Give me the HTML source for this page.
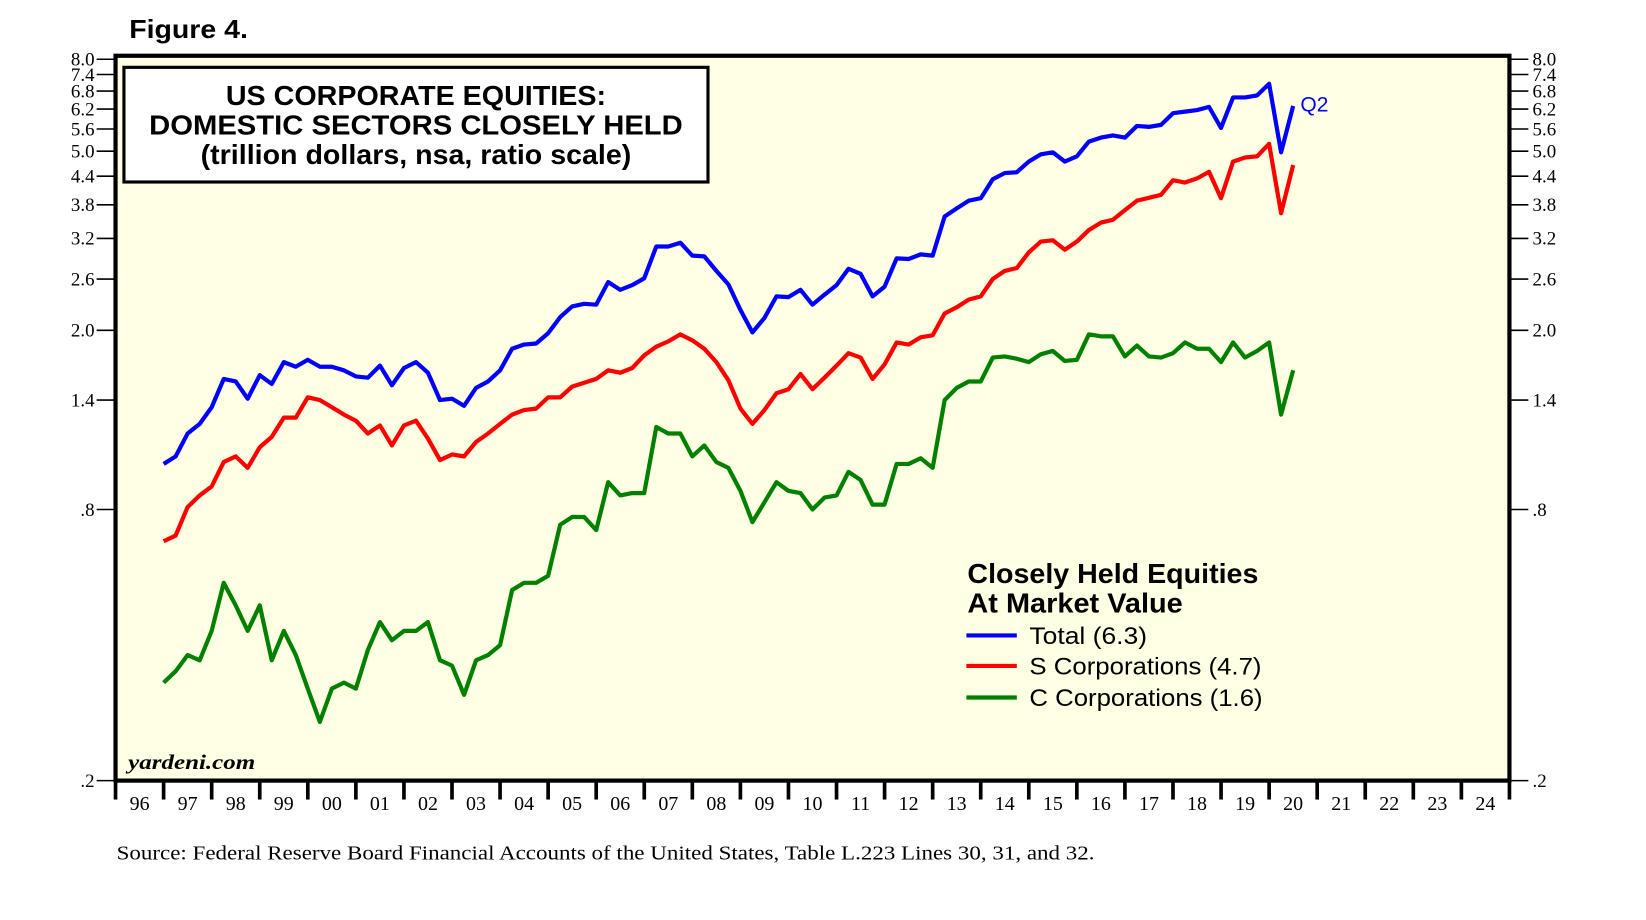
<!DOCTYPE html>
<html><head><meta charset="utf-8"><style>
html,body{margin:0;padding:0;background:#fff;}
svg{display:block;}
.ser{font-family:"Liberation Serif",serif;}
.san{font-family:"Liberation Sans Narrow","Liberation Sans",sans-serif;}
</style></head><body>
<svg id="chart" width="1646" height="920" viewBox="0 0 1567 874.5" preserveAspectRatio="none" xmlns="http://www.w3.org/2000/svg">
<text class="san" x="123" y="36" font-size="25" font-weight="bold" textLength="113" lengthAdjust="spacingAndGlyphs">Figure 4.</text>
<rect x="110" y="53" width="1327" height="689" fill="#FFFFE3" stroke="#000" stroke-width="4"/>
<g id="yticks"></g><g id="xticks"></g><g id="series"></g>
<rect x="118" y="64" width="556" height="109" fill="#fff" stroke="#000" stroke-width="3"/>
<text class="san" x="396" y="100" text-anchor="middle" font-size="26" font-weight="bold" textLength="362" lengthAdjust="spacingAndGlyphs">US CORPORATE EQUITIES:</text>
<text class="san" x="396" y="128" text-anchor="middle" font-size="26" font-weight="bold" textLength="508" lengthAdjust="spacingAndGlyphs">DOMESTIC SECTORS  CLOSELY HELD</text>
<text class="san" x="396" y="156" text-anchor="middle" font-size="26" font-weight="bold" textLength="410" lengthAdjust="spacingAndGlyphs">(trillion dollars, nsa, ratio scale)</text>
<text class="san" x="921" y="554" font-size="26" font-weight="bold" textLength="277" lengthAdjust="spacingAndGlyphs">Closely Held Equities</text>
<text class="san" x="921" y="582" font-size="26" font-weight="bold" textLength="205" lengthAdjust="spacingAndGlyphs">At Market Value</text>
<line x1="920" y1="604" x2="968" y2="604" stroke="#0000FF" stroke-width="4"/>
<text class="san" x="980" y="612" font-size="23" textLength="112" lengthAdjust="spacingAndGlyphs">Total (6.3)</text>
<line x1="920" y1="633" x2="968" y2="633" stroke="#FF0000" stroke-width="4"/>
<text class="san" x="980" y="641" font-size="23" textLength="221" lengthAdjust="spacingAndGlyphs">S Corporations (4.7)</text>
<line x1="920" y1="663" x2="968" y2="663" stroke="#008000" stroke-width="4"/>
<text class="san" x="980" y="671" font-size="23" textLength="222" lengthAdjust="spacingAndGlyphs">C Corporations (1.6)</text>
<text class="san" x="1238" y="106" font-size="20" fill="#0000FF">Q2</text>
<text class="ser" x="122" y="731" font-size="20" font-weight="bold" font-style="italic" textLength="121" lengthAdjust="spacingAndGlyphs">yardeni.com</text>
<text class="ser" x="111" y="817" font-size="19" textLength="931" lengthAdjust="spacingAndGlyphs">Source: Federal Reserve Board Financial Accounts of the United States, Table L.223 Lines 30, 31, and 32.</text>
</svg>
<script>
const yTickValues=[8.0,7.4,6.8,6.2,5.6,5.0,4.4,3.8,3.2,2.6,2.0,1.4,0.8,0.2];
const yTickLabels=["8.0","7.4","6.8","6.2","5.6","5.0","4.4","3.8","3.2","2.6","2.0","1.4",".8",".2"];
const yearLabels=["96","97","98","99","00","01","02","03","04","05","06","07","08","09","10","11","12","13","14","15","16","17","18","19","20","21","22","23","24"];
const startYear=1997.0; // first quarterly point (1996 Q4)
const totalValues=[1.01,1.05,1.18,1.24,1.35,1.56,1.54,1.41,1.59,1.52,1.70,1.66,1.72,1.66,1.66,1.63,1.58,1.57,1.67,1.51,1.65,1.70,1.61,1.40,1.41,1.36,1.49,1.54,1.63,1.82,1.86,1.87,1.97,2.14,2.26,2.29,2.28,2.56,2.46,2.52,2.61,3.07,3.07,3.13,2.93,2.92,2.71,2.53,2.22,1.98,2.13,2.38,2.37,2.46,2.28,2.40,2.52,2.74,2.67,2.38,2.50,2.89,2.88,2.95,2.93,3.58,3.73,3.88,3.93,4.33,4.47,4.49,4.74,4.92,4.97,4.74,4.87,5.25,5.36,5.42,5.36,5.69,5.66,5.72,6.07,6.12,6.17,6.27,5.63,6.58,6.58,6.65,7.06,4.97,6.30];
const sCorpValues=[0.68,0.70,0.81,0.86,0.90,1.02,1.05,0.99,1.10,1.16,1.28,1.28,1.42,1.40,1.35,1.30,1.26,1.18,1.23,1.11,1.23,1.26,1.15,1.03,1.06,1.05,1.13,1.18,1.24,1.30,1.33,1.34,1.42,1.42,1.50,1.53,1.56,1.63,1.61,1.65,1.76,1.84,1.89,1.96,1.90,1.82,1.70,1.55,1.34,1.24,1.33,1.45,1.48,1.60,1.48,1.57,1.67,1.78,1.74,1.56,1.68,1.88,1.86,1.93,1.95,2.18,2.25,2.34,2.38,2.60,2.71,2.75,2.98,3.15,3.17,3.02,3.15,3.34,3.47,3.52,3.70,3.88,3.94,4.00,4.31,4.26,4.35,4.50,3.93,4.74,4.84,4.87,5.19,3.64,4.66];
const cCorpValues=[0.33,0.35,0.38,0.37,0.43,0.55,0.49,0.43,0.49,0.37,0.43,0.38,0.32,0.27,0.32,0.33,0.32,0.39,0.45,0.41,0.43,0.43,0.45,0.37,0.36,0.31,0.37,0.38,0.40,0.53,0.55,0.55,0.57,0.74,0.77,0.77,0.72,0.92,0.86,0.87,0.87,1.22,1.18,1.18,1.05,1.11,1.02,0.99,0.88,0.75,0.83,0.92,0.88,0.87,0.80,0.85,0.86,0.97,0.93,0.82,0.82,1.01,1.01,1.04,0.99,1.40,1.49,1.54,1.54,1.74,1.75,1.73,1.70,1.77,1.80,1.71,1.72,1.96,1.94,1.94,1.75,1.85,1.75,1.74,1.78,1.88,1.82,1.82,1.70,1.88,1.74,1.80,1.88,1.30,1.63];

const NS="http://www.w3.org/2000/svg";
const L=110,R=1437,B=742;
const yearW=(R-L)/29;
function xScale(t){return L+(t-1996)*yearW;}
function yScale(v){return B-428*Math.log10(v/0.2);}
function mk(tag,attrs,parent){const e=document.createElementNS(NS,tag);for(const k in attrs)e.setAttribute(k,attrs[k]);parent.appendChild(e);return e;}

const yg=document.getElementById('yticks');
yTickValues.forEach((v,i)=>{
  const y=yScale(v);
  const tl=mk('line',{x1:92,x2:L,y1:y,y2:y,stroke:'#000','stroke-width':1.5},yg);
  
  
  const tr=mk('line',{x1:R,x2:1455,y1:y,y2:y,stroke:'#000','stroke-width':1.5},yg);
  
  
  const a=mk('text',{x:90,y:y+6,'text-anchor':'end','font-size':18,class:'ser'},yg);
  a.textContent=yTickLabels[i];
  
  
  const b=mk('text',{x:1459,y:y+6,'font-size':18,class:'ser'},yg);
  b.textContent=yTickLabels[i];
  
  
});
const xg=document.getElementById('xticks');
for(let i=0;i<=yearLabels.length;i++){
  const x=L+i*yearW;
  const t=mk('line',{x1:x,x2:x,y1:B,y2:760,stroke:'#000','stroke-width':3.5},xg);
  
  
}
yearLabels.forEach((lab,i)=>{
  const t=mk('text',{x:xScale(1996+i+0.5),y:770,'text-anchor':'middle','font-size':19,class:'ser'},xg);
  t.textContent=lab;
  
  
});
const sg=document.getElementById('series');
[[cCorpValues,'#008000','c-corporations-line'],[sCorpValues,'#FF0000','s-corporations-line'],[totalValues,'#0000FF','total-line']].forEach(([vals,col,name])=>{
  const pts=vals.map((v,i)=>xScale(startYear+i*0.25).toFixed(1)+','+yScale(v).toFixed(1)).join(' ');
  const p=mk('polyline',{points:pts,fill:'none',stroke:col,'stroke-width':4,'stroke-linejoin':'round'},sg);
  
  
});
</script>
</body></html>
